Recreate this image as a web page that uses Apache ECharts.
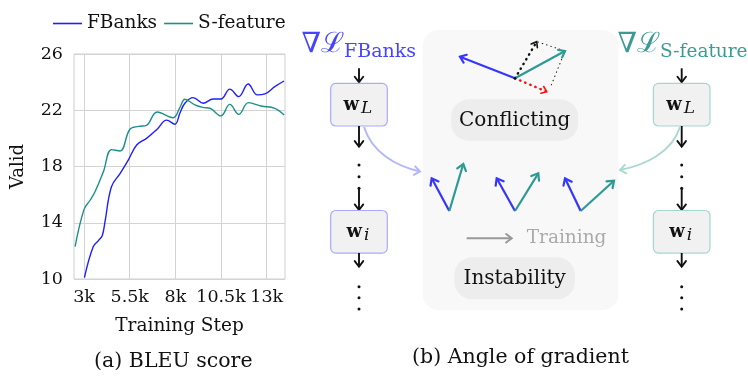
<!DOCTYPE html>
<html>
<head>
<meta charset="utf-8">
<script src="https://cdn.jsdelivr.net/npm/echarts@6/dist/echarts.min.js"></script>
<style>html,body{margin:0;padding:0;background:#fff}#c{width:748px;height:384px}</style>
</head>
<body>
<div id="c"></div>
<script>
// ---- data ----
const xTicks = [3, 5.5, 8, 10.5, 13];
const yTicks = [10, 14, 18, 22, 26];
const fbSteps = [3.02, 3.5, 3.8, 4.0, 4.15, 4.5, 4.97, 5.42, 5.88, 6.42, 7.0, 7.52, 7.97, 8.25, 8.52, 8.97, 9.52, 10.07, 10.49, 10.98, 11.47, 11.98, 12.49, 12.9, 13.44, 13.95];
const fbValid = [10.1, 12.3, 12.75, 13.1, 14.1, 16.56, 17.5, 18.46, 19.53, 20.0, 20.65, 21.3, 21.0, 21.8, 22.5, 22.9, 22.5, 22.8, 22.8, 23.5, 22.97, 23.87, 23.09, 23.16, 23.68, 24.08];
const sfSteps = [2.51, 3.0, 3.33, 3.6, 4.05, 4.51, 4.97, 5.51, 6.0, 6.42, 7.0, 7.88, 8.25, 8.52, 9.07, 9.5, 9.89, 10.49, 10.98, 11.47, 12.0, 12.7, 13.44, 13.95];
const sfValid = [12.3, 14.95, 15.6, 16.2, 17.6, 19.2, 19.1, 20.65, 20.85, 20.93, 21.88, 21.47, 22.2, 22.78, 22.38, 22.2, 22.14, 21.6, 22.42, 21.71, 22.54, 22.3, 22.14, 21.66];

const SERIF = '"DejaVu Serif", serif';
const BLUE = '#1f1fff', TEAL = '#1d8f8a';
const DBLUE = '#3535ff', DTEAL = '#2e9a94';

// ---- diagram helpers ----
function head(x1, y1, x2, y2, color, w, L) {
  L = L || 6;
  const a = Math.atan2(y2 - y1, x2 - x1), s = 0.65;
  return { type: 'polyline', silent: true,
    shape: { points: [[x2 - L * Math.cos(a - s), y2 - L * Math.sin(a - s)], [x2, y2], [x2 - L * Math.cos(a + s), y2 - L * Math.sin(a + s)]] },
    style: { stroke: color, lineWidth: w, fill: null, lineJoin: 'miter', lineCap: 'round' } };
}
function arrow(x1, y1, x2, y2, color, w, dash, L) {
  const out = [{ type: 'line', silent: true, shape: { x1, y1, x2, y2 },
    style: { stroke: color, lineWidth: w, lineDash: dash || null, lineCap: dash ? 'round' : 'butt' } }];
  out.push(head(x1, y1, x2, y2, color, dash ? 1.6 : w, L));
  return out;
}
function dots(x, ys) {
  return ys.map(y => ({ type: 'circle', silent: true, shape: { cx: x, cy: y, r: 1.5 }, style: { fill: '#111' } }));
}
function wbox(cx, cy, sub, border) {
  return [
    { type: 'rect', silent: true, shape: { x: cx - 28.3, y: cy - 21.3, width: 56.6, height: 42.6, r: 5 }, style: { fill: '#f1f1f1', stroke: border, lineWidth: 1.2 } },
    { type: 'text', silent: true, style: { x: cx - 1, y: cy + 1, text: '{b|w}{i|' + sub + '}', align: 'center', verticalAlign: 'middle',
      rich: { b: { fontFamily: SERIF, fontWeight: 'bold', fontSize: 18, fill: '#111' },
              i: { fontFamily: SERIF, fontStyle: 'italic', fontSize: 17, fill: '#111', padding: [6, 0, 0, 2] } } } }
  ];
}
function gradLabel(x, sub, color, subSize) {
  return [
    { type: 'text', silent: true, style: { x: x, y: 45, text: '∇ℒ', fontFamily: SERIF, fontSize: 28, fill: color, verticalAlign: 'middle' } },
    { type: 'text', silent: true, style: { x: x + 42.5, y: 52, text: sub, fontFamily: SERIF, fontSize: subSize, fill: color, verticalAlign: 'middle' } }
  ];
}

const LX = 359, RX = 681.7;
let g = [];
// panel
g.push({ type: 'rect', silent: true, z: -1, shape: { x: 422.7, y: 30, width: 195.6, height: 280, r: 16 }, style: { fill: '#f8f8f8' } });
g.push({ type: 'rect', silent: true, shape: { x: 451, y: 99.3, width: 127.3, height: 41.4, r: 18 }, style: { fill: '#ededed' } });
g.push({ type: 'text', silent: true, style: { x: 514.7, y: 120.5, text: 'Conflicting', fontFamily: SERIF, fontSize: 20, fill: '#111', align: 'center', verticalAlign: 'middle' } });
g.push({ type: 'rect', silent: true, shape: { x: 454.3, y: 257.3, width: 120.7, height: 42, r: 18 }, style: { fill: '#ededed' } });
g.push({ type: 'text', silent: true, style: { x: 514.7, y: 279, text: 'Instability', fontFamily: SERIF, fontSize: 20, fill: '#111', align: 'center', verticalAlign: 'middle' } });
// training arrow
g = g.concat(arrow(466.7, 238.3, 511.7, 238.3, '#999', 2, null, 7));
g.push({ type: 'text', silent: true, style: { x: 526.7, y: 238.5, text: 'Training', fontFamily: SERIF, fontSize: 18.5, fill: '#aaa', verticalAlign: 'middle' } });
// conflicting vectors
g = g.concat(arrow(515, 78.3, 536.7, 41.7, '#111', 2.4, [0.5, 5], 6));
g.push({ type: 'line', silent: true, shape: { x1: 538, y1: 42, x2: 565, y2: 51 }, style: { stroke: '#222', lineWidth: 1.1, lineDash: [0.5, 4], lineCap: 'round' } });
g.push({ type: 'line', silent: true, shape: { x1: 565, y1: 51, x2: 550, y2: 88.3 }, style: { stroke: '#222', lineWidth: 1.1, lineDash: [0.5, 4], lineCap: 'round' } });
g = g.concat(arrow(515, 78.3, 546.7, 91.7, '#ff1010', 2.4, [0.5, 5], 6));
g = g.concat(arrow(515, 78.3, 460, 56.7, DBLUE, 2.2, null, 7));
g = g.concat(arrow(515, 78.3, 565, 51, DTEAL, 2.2, null, 7));
g.push({ type: 'circle', silent: true, shape: { cx: 515, cy: 78.3, r: 1.4 }, style: { fill: '#111' } });
// instability vectors
[[449.3, 431.7, 178.3, 463.3, 164], [515, 496.7, 178.3, 538.3, 173.3], [580.7, 565, 178.3, 614, 180.7]].forEach(v => {
  g = g.concat(arrow(v[0], 211, v[1], v[2], DBLUE, 2.2, null, 7.5));
  g = g.concat(arrow(v[0], 211, v[3], v[4], DTEAL, 2.2, null, 7.5));
});
// columns
[[LX, '#a9a9ff'], [RX, '#a6d6d2']].forEach(c => {
  const x = c[0];
  g = g.concat(arrow(x, 68.3, x, 82.3, '#111', 1.9, null, 7));
  g = g.concat(wbox(x, 104.7, 'L', c[1]));
  g = g.concat(arrow(x, 126, x, 146.7, '#111', 1.9, null, 7));
  g = g.concat(dots(x, [165, 176.7, 188.3]));
  g = g.concat(arrow(x, 188.3, x, 210, '#111', 1.9, null, 7));
  g = g.concat(wbox(x, 231.8, 'i', c[1]));
  g = g.concat(arrow(x, 253, x, 266.7, '#111', 1.9, null, 7));
  g = g.concat(dots(x, [286.7, 297.7, 309]));
});
g = g.concat(gradLabel(301.5, 'FBanks', '#4545ff', 19));
g = g.concat(gradLabel(617.5, 'S-feature', '#3a9a94', 18.5));
// curved arrows
g.push({ type: 'bezierCurve', silent: true, shape: { x1: 364, y1: 127, cpx1: 372, cpy1: 152, cpx2: 395, cpy2: 166, x2: 420, y2: 171.5 }, style: { stroke: '#b6b6ff', lineWidth: 2, fill: null } });
g.push(head(405, 169, 420, 171.5, '#b6b6ff', 2, 7));
g.push({ type: 'bezierCurve', silent: true, shape: { x1: 680, y1: 127, cpx1: 672, cpy1: 152, cpx2: 646, cpy2: 165, x2: 620, y2: 170 }, style: { stroke: '#acd8d4', lineWidth: 2, fill: null } });
g.push(head(635, 167.5, 620, 170, '#acd8d4', 2, 7));
// captions
g.push({ type: 'text', silent: true, style: { x: 173.3, y: 362, text: '(a) BLEU score', fontFamily: SERIF, fontSize: 20.5, fill: '#111', align: 'center', verticalAlign: 'middle' } });
g.push({ type: 'text', silent: true, style: { x: 520.5, y: 357.5, text: '(b) Angle of gradient', fontFamily: SERIF, fontSize: 20.5, fill: '#111', align: 'center', verticalAlign: 'middle' } });

const chart = echarts.init(document.getElementById('c'), null, { renderer: 'canvas' });
chart.setOption({
  animation: false,
  backgroundColor: '#fff',
  legend: { left: 48, top: 9, icon: 'rect', itemWidth: 29, itemHeight: 1.6, itemGap: 7,
    textStyle: { fontFamily: SERIF, fontSize: 18.5, color: '#111', padding: [0, 0, 0, 0] } },
  grid: { left: 74, right: 463, top: 54, bottom: 105, show: true, borderColor: '#cfcfcf', borderWidth: 1 },
  xAxis: { type: 'value', min: 2.45, max: 14,
    name: 'Training Step', nameLocation: 'middle', nameGap: 38,
    nameTextStyle: { fontFamily: SERIF, fontSize: 18.5, color: '#111' },
    axisLine: { show: false }, axisTick: { show: false, customValues: xTicks },
    axisLabel: { customValues: xTicks, formatter: v => v + 'k', fontFamily: SERIF, fontSize: 17.5, color: '#111', margin: 9 },
    splitLine: { show: true, lineStyle: { color: '#d3d3d3', width: 1 } } },
  yAxis: { type: 'value', min: 10, max: 26, interval: 4,
    name: 'Valid', nameLocation: 'middle', nameGap: 47, nameRotate: 90,
    nameTextStyle: { fontFamily: SERIF, fontSize: 18, color: '#111' },
    axisLine: { show: false }, axisTick: { show: false },
    axisLabel: { fontFamily: SERIF, fontSize: 17.5, color: '#111', margin: 11 },
    splitLine: { show: true, lineStyle: { color: '#d3d3d3', width: 1 } } },
  series: [
    { name: 'FBanks', type: 'line', smooth: 0.4, symbol: 'none', data: fbSteps.map((x, i) => [x, fbValid[i]]),
      lineStyle: { color: BLUE, width: 1.4 }, itemStyle: { color: BLUE } },
    { name: 'S-feature', type: 'line', smooth: 0.4, symbol: 'none', data: sfSteps.map((x, i) => [x, sfValid[i]]),
      lineStyle: { color: TEAL, width: 1.4 }, itemStyle: { color: TEAL } }
  ],
  graphic: g
});
</script>
</body>
</html>
